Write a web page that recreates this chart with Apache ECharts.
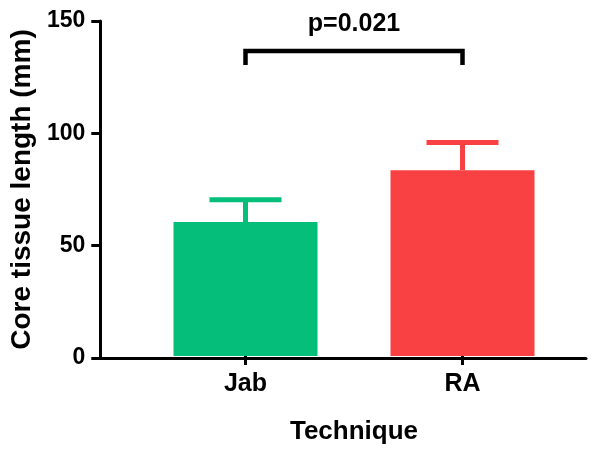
<!DOCTYPE html>
<html><head><meta charset="utf-8">
<script src="https://cdn.jsdelivr.net/npm/echarts@6/dist/echarts.min.js"></script>
<style>html,body{margin:0;padding:0;background:#fff}#c{width:607px;height:450px}</style>
</head><body><div id="c"></div>
<script>
// ---- data ----
const categories = ['Jab', 'RA'];
const means = [60.0, 83.2];
const upperErrors = [70.0, 95.6];
const yTicks = [0, 50, 100, 150];
const xTitle = 'Technique';
const yTitle = 'Core tissue length (mm)';
const pLabel = 'p=0.021';
const bracket = [0, 1, 136.6, 130.3]; // from cat, to cat, top value, leg-end value

// ---- styles ----
const colors = ['#05BE79', '#F94042'];
const FONT = 'Liberation Sans, Arial, sans-serif';

const chart = echarts.init(document.getElementById('c'), null, {renderer: 'canvas'});
const yMin = yTicks[0], yMax = yTicks[yTicks.length - 1], yStep = yTicks[1] - yTicks[0];

const option = {
  backgroundColor: '#fff',
  animation: false,
  grid: [
    {left: 100, right: 21, top: 21, bottom: 92, containLabel: false},
    {left: 137, width: 434, top: 21, bottom: 92, containLabel: false}
  ],
  xAxis: [
    {gridIndex: 0, type: 'value', min: 0, max: 1, z: 5,
     axisLine: {show: true, onZero: false, lineStyle: {color: '#000', width: 3}},
     axisTick: {show: false}, axisLabel: {show: false}, splitLine: {show: false}},
    {gridIndex: 1, type: 'category', data: categories,
     axisLine: {show: false},
     axisTick: {show: true, alignWithLabel: true, length: 9, lineStyle: {color: '#000', width: 3}},
     axisLabel: {show: true, margin: 16, color: '#000', fontFamily: FONT, fontWeight: 'bold', fontSize: 25},
     splitLine: {show: false},
     name: xTitle, nameLocation: 'middle', nameGap: 63,
     nameTextStyle: {color: '#000', fontFamily: FONT, fontWeight: 'bold', fontSize: 26}}
  ],
  yAxis: [
    {gridIndex: 0, type: 'value', min: yMin, max: yMax, interval: yStep,
     axisLine: {show: true, onZero: false, lineStyle: {color: '#000', width: 3}},
     axisTick: {show: true, length: 9, lineStyle: {color: '#000', width: 3}},
     axisLabel: {show: true, margin: 15, color: '#000', fontFamily: FONT, fontWeight: 'bold', fontSize: 23},
     splitLine: {show: false},
     name: yTitle, nameLocation: 'middle', nameGap: 57,
     nameTextStyle: {color: '#000', fontFamily: FONT, fontWeight: 'bold', fontSize: 28}},
    {gridIndex: 1, type: 'value', min: yMin, max: yMax, interval: yStep, show: false}
  ],
  series: [
    {type: 'bar', xAxisIndex: 1, yAxisIndex: 1, barWidth: 144,
     itemStyle: {borderWidth: 0},
     data: means.map((v, i) => ({value: v, itemStyle: {color: colors[i], borderWidth: 0}})), z: 2},
    {type: 'custom', xAxisIndex: 1, yAxisIndex: 1, z: 3, clip: false,
     data: categories.map((c, i) => [i, means[i], upperErrors[i]]),
     encode: {x: 0, y: [1, 2]},
     renderItem: function (params, api) {
       const i = api.value(0);
       const base = api.coord([i, api.value(1)]);
       const top = api.coord([i, api.value(2)]);
       const col = colors[params.dataIndex];
       const half = 36;
       return {type: 'group', children: [
         {type: 'line', shape: {x1: base[0], y1: base[1], x2: top[0], y2: top[1]},
          style: {stroke: col, lineWidth: 5}},
         {type: 'line', shape: {x1: top[0] - half, y1: top[1], x2: top[0] + half, y2: top[1]},
          style: {stroke: col, lineWidth: 5}}
       ]};
     }},
    {type: 'custom', xAxisIndex: 1, yAxisIndex: 1, z: 3, clip: false,
     data: [bracket],
     encode: {x: [0, 1], y: [2, 3]},
     renderItem: function (params, api) {
       const a = api.coord([api.value(0), api.value(2)]);
       const b = api.coord([api.value(1), api.value(2)]);
       const a0 = api.coord([api.value(0), api.value(3)]);
       const b0 = api.coord([api.value(1), api.value(3)]);
       return {type: 'group', children: [
         {type: 'polyline', shape: {points: [a0, a, b, b0]},
          style: {stroke: '#000', lineWidth: 4.5, fill: null, lineJoin: 'miter', lineCap: 'butt'}},
         {type: 'text', x: (a[0] + b[0]) / 2, y: a[1] - 27,
          style: {text: pLabel, align: 'center', verticalAlign: 'middle',
                  font: 'bold 25px ' + FONT, fill: '#000'}}
       ]};
     }}
  ]
};
chart.setOption(option);
</script>
</body></html>
